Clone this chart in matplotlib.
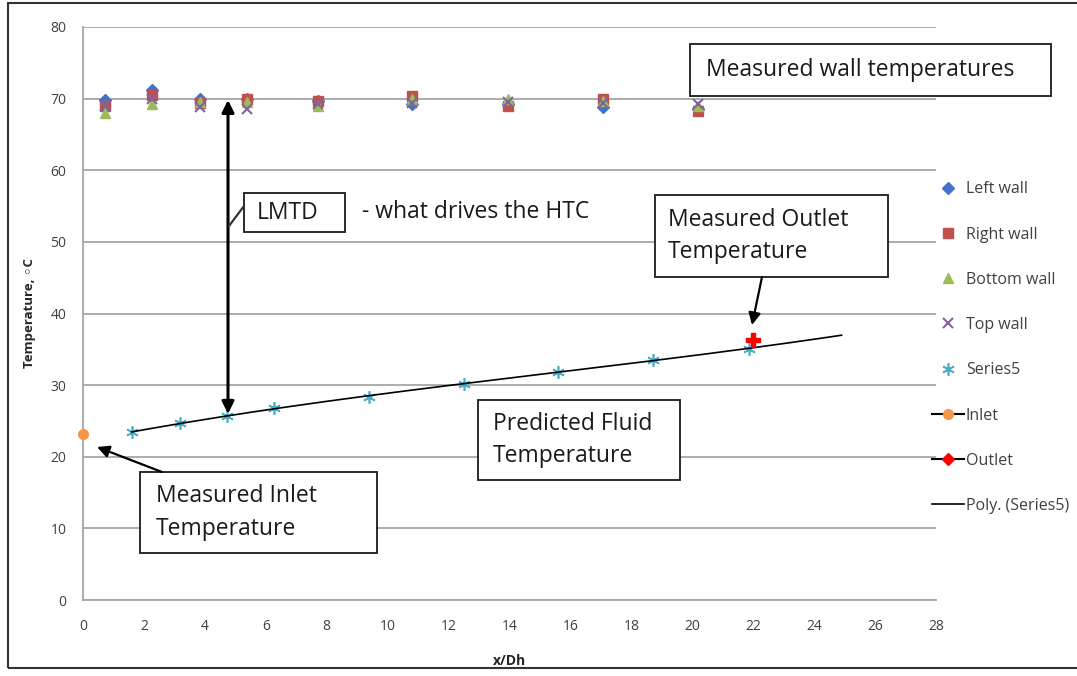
import numpy as np
import matplotlib
matplotlib.use("Agg")
import matplotlib.pyplot as plt
from matplotlib.patches import Rectangle, FancyArrowPatch
from matplotlib.lines import Line2D

plt.rcParams['font.family'] = ['Open Sans', 'DejaVu Sans']

# Wall thermocouple stations (x/Dh) and measured temperatures (°C)
wall_x = [0.72, 2.26, 3.84, 5.38, 7.7, 10.8, 13.95, 17.07, 20.2]
left_wall = [69.8, 71.2, 69.9, 70.0, 69.7, 69.2, 69.3, 68.9, 68.6]
right_wall = [69.0, 70.5, 69.4, 70.0, 69.7, 70.3, 69.0, 70.0, 68.3]
bottom_wall = [68.0, 69.2, 69.5, 69.5, 69.0, 70.0, 70.0, 69.6, 69.0]
top_wall = [69.0, 70.0, 68.8, 68.5, 69.3, 69.4, 69.5, 69.4, 69.3]

# Predicted bulk fluid temperature
series5_x = [1.6, 3.18, 4.73, 6.27, 9.39, 12.5, 15.6, 18.7, 21.86]
series5_y = [23.4, 24.7, 25.7, 26.8, 28.4, 30.2, 31.8, 33.5, 35.1]

inlet_x, inlet_y = [0.0], [23.2]
outlet_x, outlet_y = [22.0], [36.3]

poly_order = 3
poly_end = 24.9
x_ticks = list(range(0, 29, 2))
y_ticks = list(range(0, 81, 10))

W, H = 1077, 676
fig = plt.figure(figsize=(W / 100, H / 100), dpi=100)


def fx(px):
    return px / W


def fy(py):
    return 1 - py / H


ax = fig.add_axes([fx(83), fy(600), fx(936) - fx(83), fy(27) - fy(600)])

grid_c = '#a6a6a6'
ax.set_xlim(0, 28)
ax.set_ylim(0, 80)
ax.set_xticks(x_ticks)
ax.set_yticks(y_ticks)
ax.yaxis.grid(True, color=grid_c, lw=1.3)
ax.set_axisbelow(True)
for s in ['top', 'right']:
    ax.spines[s].set_visible(False)
for s in ['left', 'bottom']:
    ax.spines[s].set_color(grid_c)
    ax.spines[s].set_linewidth(1.3)
ax.tick_params(axis='x', length=0, labelsize=10, colors='#404040', pad=14)
ax.tick_params(axis='y', length=0, labelsize=10, colors='#404040', pad=12)
ax.set_xlabel('x/Dh', fontsize=10, fontweight='bold', color='#262626', labelpad=14)
ax.set_ylabel('Temperature, \u25e6C', fontsize=9.5, fontweight='bold', color='#262626', labelpad=10)

ms = 7
ax.plot(wall_x, left_wall, ls='none', marker='D', ms=ms - 1, color='#4472C4', label='Left wall')
ax.plot(wall_x, right_wall, ls='none', marker='s', ms=ms, color='#C0504D', label='Right wall')
ax.plot(wall_x, bottom_wall, ls='none', marker='^', ms=ms, color='#9BBB59', label='Bottom wall')
ax.plot(wall_x, top_wall, ls='none', marker='x', ms=ms, mew=1.5, color='#8064A2', label='Top wall')
ax.plot(series5_x, series5_y, ls='none', marker=(6, 2, 0), ms=ms + 2, mew=1.2,
        color='#4BACC6', label='Series5')
ax.plot(inlet_x, inlet_y, ls='-', color='black', marker='o', ms=ms,
        mfc='#F79646', mec='#F79646', label='Inlet', clip_on=False, zorder=5)
ax.plot(outlet_x, outlet_y, ls='-', color='black', marker='P', ms=ms + 3,
        mfc='#FF0000', mec='#FF0000', label='Outlet', zorder=5)

coef = np.polyfit(series5_x, series5_y, poly_order)
xs = np.linspace(series5_x[0], poly_end, 200)
ax.plot(xs, np.polyval(coef, xs), color='black', lw=1.2, label='Poly. (Series5)', zorder=4)

handles, labels = ax.get_legend_handles_labels()
handles[6] = Line2D([], [], color='black', marker='D', ms=6, mfc='#FF0000', mec='#FF0000')
leg = fig.legend(handles, labels, loc='upper left', bbox_to_anchor=(fx(926), fy(175)),
                 frameon=False, fontsize=11.5, labelspacing=1.83, handlelength=2.0,
                 handletextpad=0.1, borderaxespad=0, labelcolor='#404040')

# LMTD double-headed arrow between wall and fluid temperature
ax.annotate('', xy=(4.76, 69.8), xytext=(4.76, 26.0),
            arrowprops=dict(arrowstyle='<|-|>', color='black', lw=2.2,
                            mutation_scale=18, shrinkA=0, shrinkB=0))


def text_box(x0, y0, x1, y1, txt, fs=16.5, tx=None):
    fig.add_artist(Rectangle((fx(x0), fy(y1)), fx(x1) - fx(x0), fy(y0) - fy(y1),
                             transform=fig.transFigure, fill=True, fc='white',
                             ec='#1a1a1a', lw=1.3, zorder=6))
    fig.text(fx(tx if tx is not None else x0 + 17), fy((y0 + y1) / 2), txt,
             fontsize=fs, color='#1a1a1a', va='center', ha='left',
             linespacing=1.5, zorder=7)


def fig_arrow(x0, y0, x1, y1, head=True):
    fig.add_artist(FancyArrowPatch((fx(x0), fy(y0)), (fx(x1), fy(y1)),
                                   transform=fig.transFigure,
                                   arrowstyle='-|>' if head else '-',
                                   mutation_scale=18, color='black' if head else '#333333',
                                   lw=1.6, shrinkA=0, shrinkB=0, zorder=8))


text_box(690, 44, 1051, 96, 'Measured wall temperatures', tx=706)
text_box(244, 193, 345, 232, 'LMTD', tx=257)
fig.text(fx(362), fy(212), '- what drives the HTC', fontsize=16.5, color='#1a1a1a',
         va='center', ha='left')
text_box(655, 195, 888, 277, 'Measured Outlet\nTemperature', tx=668)
text_box(478, 400, 680, 480, 'Predicted Fluid\nTemperature', tx=493)
text_box(140, 472, 377, 553, 'Measured Inlet\nTemperature', tx=156)

fig_arrow(244, 206, 229, 226, head=False)
fig_arrow(762, 277, 752, 325)
fig_arrow(162, 472, 97, 447)

# outer chart frame
fig.add_artist(Rectangle((fx(8), fy(668)), fx(1100) - fx(8), fy(3) - fy(668),
                         transform=fig.transFigure, fill=False, ec='#333333', lw=1.5))

fig.savefig('out.png', dpi=100)
